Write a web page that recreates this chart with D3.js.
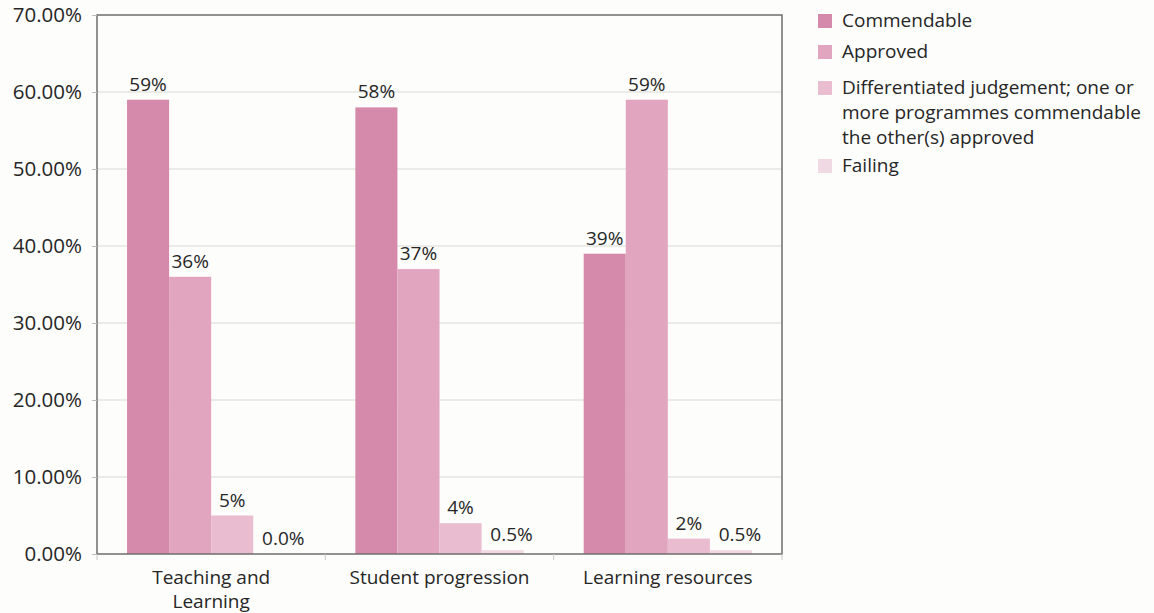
<!DOCTYPE html>
<html>
<head>
<meta charset="utf-8">
<script src="https://cdn.jsdelivr.net/npm/d3@7"></script>
<style>
  html, body { margin: 0; padding: 0; background: #fdfdfb; }
  svg { display: block; font-family: "Open Sans", Lato, sans-serif; }
</style>
</head>
<body>
<svg id="chart" width="1154" height="613"></svg>
<script>
// Review areas and outcome categories
const categories = [["Teaching and", "Learning"], ["Student progression"], ["Learning resources"]];
const series = [
  "Commendable",
  "Approved",
  "Differentiated judgement; one or more programmes commendable the other(s) approved",
  "Failing"
];
const legendLines = [
  ["Commendable"],
  ["Approved"],
  ["Differentiated judgement; one or", "more programmes commendable", "the other(s) approved"],
  ["Failing"]
];
// Share of judgements (%) per series, one value per review area
const commendable = [59, 58, 39];
const approved = [36, 37, 59];
const differentiated = [5, 4, 2];
const failing = [0, 0.5, 0.5];
const yTicks = [0, 10, 20, 30, 40, 50, 60, 70];
const colors = ["#d68aab", "#e2a5bf", "#e9bccf", "#f1d9e3"];

const values = [commendable, approved, differentiated, failing];

const svg = d3.select("#chart");
const plot = { left: 97, right: 782, top: 15, bottom: 554 };
const FONT = 19;
const TEXT = "#262626";

const y = d3.scaleLinear().domain([0, 70]).range([plot.bottom, plot.top]);
const x0 = d3.scaleBand().domain(d3.range(categories.length)).range([plot.left, plot.right]).padding(0);
const x1 = d3.scaleBand().domain(d3.range(series.length)).range([0, x0.bandwidth()])
  .paddingInner(0).paddingOuter(0.714);

// gridlines
svg.append("g")
  .selectAll("line")
  .data(yTicks.filter(t => t > 0 && t < 70))
  .join("line")
  .attr("x1", plot.left).attr("x2", plot.right)
  .attr("y1", d => y(d)).attr("y2", d => y(d))
  .attr("stroke", "#d9d9d6").attr("stroke-width", 1);

// bars
const groups = svg.append("g").selectAll("g")
  .data(categories.map((c, i) => i))
  .join("g")
  .attr("transform", i => `translate(${x0(i)},0)`);

groups.selectAll("rect")
  .data(i => values.map((vals, s) => ({ s, v: vals[i] })))
  .join("rect")
  .attr("x", d => x1(d.s))
  .attr("width", x1.bandwidth())
  .attr("y", d => y(d.v))
  .attr("height", d => y(0) - y(d.v))
  .attr("fill", d => colors[d.s]);

const fmt = v => v < 1 ? v.toFixed(1) + "%" : d3.format("d")(v) + "%";
groups.selectAll("text")
  .data(i => values.map((vals, s) => ({ s, v: vals[i] })))
  .join("text")
  .attr("x", d => x1(d.s) + x1.bandwidth() / 2 + (d.v < 1 ? 9 : 0))
  .attr("y", d => y(d.v) - 9)
  .attr("text-anchor", "middle")
  .attr("font-size", FONT)
  .attr("fill", TEXT)
  .text(d => fmt(d.v));

// frame
svg.append("rect")
  .attr("x", plot.left).attr("y", plot.top)
  .attr("width", plot.right - plot.left).attr("height", plot.bottom - plot.top)
  .attr("fill", "none").attr("stroke", "#6e6e6e").attr("stroke-width", 1.5);

// y axis
const yAxis = svg.append("g")
  .attr("transform", `translate(${plot.left},0)`)
  .call(d3.axisLeft(y).tickValues(yTicks).tickSize(5).tickPadding(10)
    .tickFormat(d => d.toFixed(2) + "%"));
yAxis.select(".domain").remove();
yAxis.selectAll("line").attr("stroke", "#bdbdbd");
yAxis.selectAll("text").attr("font-size", 20.5).attr("fill", TEXT)
  .attr("font-family", "'Open Sans', sans-serif");

// x axis separators
svg.append("g").selectAll("line")
  .data(d3.range(categories.length + 1))
  .join("line")
  .attr("x1", i => plot.left + i * x0.step()).attr("x2", i => plot.left + i * x0.step())
  .attr("y1", plot.bottom).attr("y2", plot.bottom + 6)
  .attr("stroke", "#c8c8c8");

// category labels, one text per line
const catG = svg.append("g").selectAll("g")
  .data(categories)
  .join("g");
catG.selectAll("text")
  .data((lines, i) => lines.map((t, j) => ({ t, j, i })))
  .join("text")
  .attr("x", d => x0(d.i) + x0.bandwidth() / 2)
  .attr("y", d => 584 + d.j * 24)
  .attr("text-anchor", "middle")
  .attr("font-size", FONT)
  .attr("fill", TEXT)
  .text(d => d.t);

// legend
const legendY = [21, 52, 88, 166];
const legend = svg.append("g");
legend.selectAll("rect")
  .data(series)
  .join("rect")
  .attr("x", 818).attr("y", (d, i) => legendY[i] - 7)
  .attr("width", 14).attr("height", 14)
  .attr("fill", (d, i) => colors[i]);
legend.selectAll("g")
  .data(legendLines)
  .join("g")
  .selectAll("text")
  .data((lines, i) => lines.map((t, j) => ({ t, j, i })))
  .join("text")
  .attr("x", 842)
  .attr("y", d => legendY[d.i] + 6 + d.j * 25)
  .attr("font-size", FONT)
  .attr("fill", TEXT)
  .text(d => d.t);
</script>
</body>
</html>
